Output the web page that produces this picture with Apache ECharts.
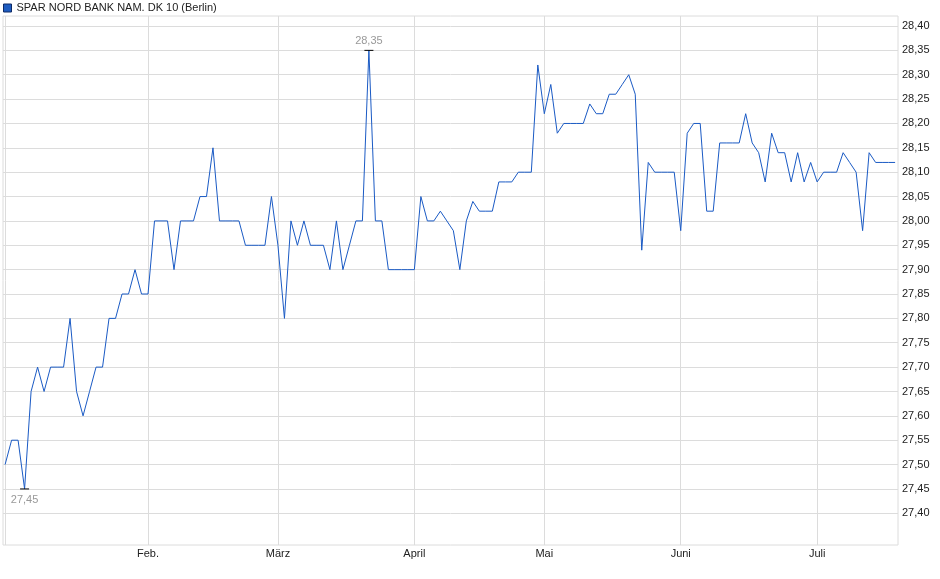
<!DOCTYPE html>
<html>
<head>
<meta charset="utf-8">
<script src="https://cdn.jsdelivr.net/npm/echarts@6/dist/echarts.min.js"></script>
<style>
html,body{margin:0;padding:0;background:#fff;}
#chart{width:940px;height:579px;}
</style>
</head>
<body>
<div id="chart"></div>
<script>
// ---- data ----
const seriesName = 'SPAR NORD BANK NAM. DK 10 (Berlin)';
const firstDay = '2025-01-02';
const lastDay = '2025-07-17';
const holidays = ['2025-04-18', '2025-04-21', '2025-05-01'];
const monthNames = {2: 'Feb.', 3: 'März', 4: 'April', 5: 'Mai', 6: 'Juni', 7: 'Juli'};
const prices = [
  27.50, 27.55, 27.55, 27.45, 27.65, 27.70, 27.65, 27.70, 27.70, 27.70,
  27.80, 27.65, 27.60, 27.65, 27.70, 27.70, 27.80, 27.80, 27.85, 27.85,
  27.90, 27.85, 27.85, 28.00, 28.00, 28.00, 27.90, 28.00, 28.00, 28.00,
  28.05, 28.05, 28.15, 28.00, 28.00, 28.00, 28.00, 27.95, 27.95, 27.95,
  27.95, 28.05, 27.95, 27.80, 28.00, 27.95, 28.00, 27.95, 27.95, 27.95,
  27.90, 28.00, 27.90, 27.95, 28.00, 28.00, 28.35, 28.00, 28.00, 27.90,
  27.90, 27.90, 27.90, 27.90, 28.05, 28.00, 28.00, 28.02, 28.00, 27.98,
  27.90, 28.00, 28.04, 28.02, 28.02, 28.02, 28.08, 28.08, 28.08, 28.10,
  28.10, 28.10, 28.32, 28.22, 28.28, 28.18, 28.20, 28.20, 28.20, 28.20,
  28.24, 28.22, 28.22, 28.26, 28.26, 28.28, 28.30, 28.26, 27.94, 28.12,
  28.10, 28.10, 28.10, 28.10, 27.98, 28.18, 28.20, 28.20, 28.02, 28.02,
  28.16, 28.16, 28.16, 28.16, 28.22, 28.16, 28.14, 28.08, 28.18, 28.14,
  28.14, 28.08, 28.14, 28.08, 28.12, 28.08, 28.10, 28.10, 28.10, 28.14,
  28.12, 28.10, 27.98, 28.14, 28.12, 28.12, 28.12, 28.12
];
const yMin = 27.40, yMax = 28.40, yStep = 0.05;

// trading-day categories (weekdays without exchange holidays)
function tradingDays(a, b) {
  const out = [];
  const d = new Date(a + 'T00:00:00Z');
  const end = new Date(b + 'T00:00:00Z');
  while (d <= end) {
    const s = d.toISOString().slice(0, 10);
    const wd = d.getUTCDay();
    if (wd !== 0 && wd !== 6 && holidays.indexOf(s) < 0) out.push(s);
    d.setUTCDate(d.getUTCDate() + 1);
  }
  return out;
}
const categories = tradingDays(firstDay, lastDay);
function isMonthStart(i) {
  return i > 0 && categories[i].slice(5, 7) !== categories[i - 1].slice(5, 7);
}
const fmt = v => Number(v).toFixed(2).replace('.', ',');

const FONT = '"Liberation Sans", Arial, sans-serif';
const GRIDC = '#dcdcdc';

const chart = echarts.init(document.getElementById('chart'), null, {renderer: 'canvas'});
chart.setOption({
  animation: false,
  textStyle: {fontFamily: FONT},
  legend: {
    data: [seriesName],
    left: 3, top: 1, padding: 0,
    icon: 'rect', itemWidth: 8, itemHeight: 8,
    itemStyle: {color: '#1e5cc0', borderColor: '#0e2a66', borderWidth: 1},
    textStyle: {fontFamily: FONT, fontSize: 11, color: '#222', lineHeight: 14}
  },
  grid: [
    {left: 3, right: 42, top: 16, bottom: 34, show: true, borderColor: GRIDC, borderWidth: 1, backgroundColor: 'transparent'},
    {left: 3, right: 42, top: 26, bottom: 65.7},
    {left: 5.1, right: 44.9, top: 16, bottom: 34},
    {left: 5.1, right: 44.9, top: 26, bottom: 65.7}
  ],
  xAxis: [
    {gridIndex: 0, type: 'value', show: false},
    {gridIndex: 1, type: 'value', show: false},
    {
      gridIndex: 2, type: 'category', data: categories, boundaryGap: false,
      axisLine: {show: false}, axisTick: {show: false},
      axisLabel: {
        interval: (i) => isMonthStart(i),
        formatter: (v) => monthNames[+v.slice(5, 7)] || '',
        margin: 3, fontSize: 11, color: '#222', fontFamily: FONT
      },
      splitLine: {show: true, interval: (i) => i === 0 || isMonthStart(i), lineStyle: {color: GRIDC, width: 1}}
    },
    {gridIndex: 3, type: 'category', data: categories, boundaryGap: false, show: false}
  ],
  yAxis: [
    {gridIndex: 0, type: 'value', show: false},
    {
      gridIndex: 1, type: 'value', min: yMin, max: yMax, interval: yStep, position: 'right',
      axisLine: {show: false}, axisTick: {show: false},
      axisLabel: {formatter: fmt, margin: 4, fontSize: 11, color: '#222', fontFamily: FONT},
      splitLine: {show: true, lineStyle: {color: GRIDC, width: 1}}
    },
    {gridIndex: 2, type: 'value', show: false},
    {gridIndex: 3, type: 'value', min: yMin, max: yMax, show: false}
  ],
  series: [{
    name: seriesName,
    type: 'line',
    xAxisIndex: 3, yAxisIndex: 3,
    data: prices,
    showSymbol: false,
    symbol: 'none',
    lineStyle: {color: '#1a5ac4', width: 1},
    itemStyle: {color: '#1a5ac4'},
    markPoint: {
      symbol: 'rect',
      symbolSize: [9, 1],
      itemStyle: {color: '#000'},
      label: {
        show: true, formatter: p => fmt(p.value), color: '#999', fontSize: 11, fontFamily: FONT
      },
      data: [
        {type: 'max', label: {position: 'top', distance: 3}},
        {type: 'min', label: {position: 'bottom', distance: 5}}
      ]
    }
  }]
});
</script>
</body>
</html>
